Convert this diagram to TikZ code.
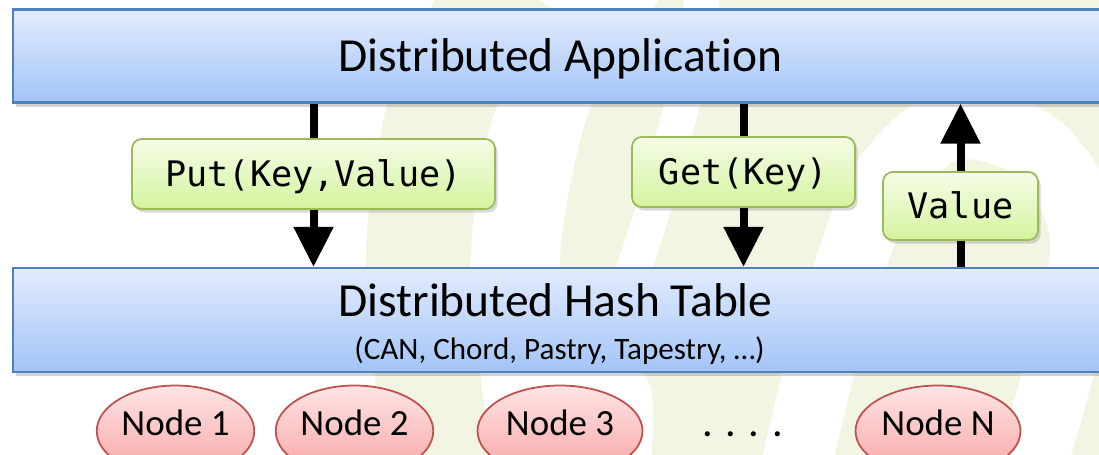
\documentclass[tikz,border=0pt]{standalone}
\usepackage{fontspec}
\setmainfont{Carlito}[Ligatures=NoCommon]
\setmonofont{DejaVu Sans Mono}
\usetikzlibrary{arrows.meta,shapes.geometric,shadows}
\definecolor{layertop}{RGB}{226,236,253}
\definecolor{layerbot}{RGB}{163,196,247}
\definecolor{layerline}{RGB}{79,129,189}
\definecolor{calltop}{RGB}{246,252,232}
\definecolor{callbot}{RGB}{212,244,158}
\definecolor{callline}{RGB}{155,187,89}
\definecolor{peertop}{RGB}{254,229,229}
\definecolor{peerbot}{RGB}{249,164,164}
\definecolor{peerline}{RGB}{192,80,77}
\definecolor{logotint}{RGB}{241,245,226}

\begin{document}
\begin{tikzpicture}[>=Latex,
  layer/.style={rectangle, draw=layerline, line width=1.2pt, top color=layertop, bottom color=layerbot, minimum width=21.9cm, inner sep=0pt, drop shadow={opacity=0.35, shadow xshift=1.5pt, shadow yshift=-2.5pt}},
  bigtext/.style={font=\fontsize{27}{32}\selectfont, text height=17.4pt, text depth=0pt},
  call/.style={rectangle, rounded corners=5.5pt, draw=callline, line width=1pt, top color=calltop, bottom color=callbot, minimum height=1.4cm, inner sep=0pt, font=\ttfamily\fontsize{20}{24}\selectfont, text height=14.6pt, text depth=0pt, drop shadow={opacity=0.3, shadow xshift=1.5pt, shadow yshift=-2pt}},
  peer/.style={ellipse, draw=peerline, line width=1pt, top color=peertop, bottom color=peerbot, minimum width=3.15cm, minimum height=1.82cm, inner sep=0pt, font=\fontsize{21}{25}\selectfont, text height=13.5pt, text depth=8.9pt},
  flow/.style={line width=0.16cm, draw=black},
  flowtip/.style={-{Triangle[width=0.76cm,length=0.8cm]}}
]
\useasboundingbox (0,0) rectangle (21.98,-9.08);
\clip (0,0) rectangle (21.98,-9.08);
\begin{scope}[x=0.02cm, y=-0.02cm]
\fill[logotint] (1120,-20) -- plot[smooth] coordinates {(675,-20) (593,100) (560,265) (600,340) (650,385) (650,470)} -- (1120,470) -- cycle;
\draw[logotint, line width=2.1cm] plot[smooth] coordinates {(510,-20) (443,100) (418,265) (440,470)};
\draw[white, line width=0.7cm] plot[smooth] coordinates {(705,-20) (683,100) (635,265) (600,330)};
\draw[white, line width=1.4cm] plot[smooth] coordinates {(795,470) (830,330) (880,190) (950,125) (1040,150) (1085,250) (1030,470)};
\end{scope}
\node[layer, bigtext, minimum height=1.86cm] (app) at (11.21,-1.12) {Distributed Application};
\node[layer, minimum height=2.08cm] (dht) at (11.21,-6.40) {};
\node[bigtext] (dhtname) at (11.11,-6.02) {Distributed Hash Table};
\node[font=\fontsize{17.7}{21}\selectfont] (dhtlist) at (11.19,-7.02) {(CAN, Chord, Pastry, Tapestry, …)};
\node[call, minimum width=7.26cm] (put) at (6.27,-3.48) {Put(Key,Value)};
\node[call, minimum width=4.46cm] (get) at (14.87,-3.44) {Get(Key)};
\node[call, minimum width=3.10cm, minimum height=1.36cm] (val) at (19.21,-4.12) {Value};
\draw[flow] (app.south -| put.north) -- (put.north);
\draw[flow, flowtip] (put.south) -- (put.south |- dht.north);
\draw[flow] (app.south -| get.north) -- (get.north);
\draw[flow, flowtip] (get.south) -- (get.south |- dht.north);
\draw[flow] (dht.north -| val.south) -- (val.south);
\draw[flow, flowtip] (val.north) -- (val.north |- app.south);
\node[peer] (n1) at (3.51,-8.62) {Node 1};
\node[peer] (n2) at (7.09,-8.62) {Node 2};
\node[peer, minimum width=3.3cm] (n3) at (11.20,-8.62) {Node 3};
\node[font=\fontsize{24}{28}\selectfont, anchor=base] (more) at (14.85,-8.72) {.\hskip0.3em.\hskip0.3em.\hskip0.3em.};
\node[peer, minimum width=3.3cm] (nN) at (18.76,-8.62) {Node N};
\end{tikzpicture}
\end{document}
